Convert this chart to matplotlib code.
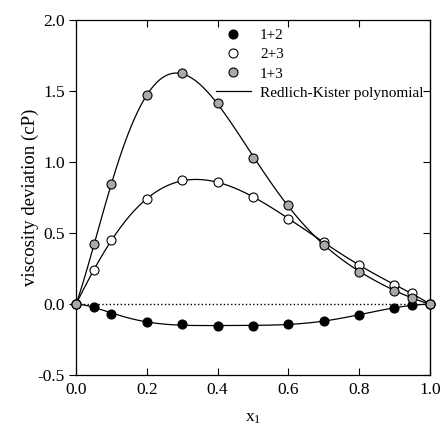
import numpy as np
import matplotlib
matplotlib.use('Agg')
import matplotlib.pyplot as plt

plt.rcParams['font.family'] = ['Liberation Serif', 'DejaVu Serif']
plt.rcParams['mathtext.fontset'] = 'stix'
plt.rcParams['font.size'] = 12.5

# mole fraction x1
x1 = [0.0, 0.05, 0.1, 0.2, 0.3, 0.4, 0.5, 0.6, 0.7, 0.8, 0.9, 0.95, 1.0]

# viscosity deviations (cP)
eta_12 = [0.0, -0.018, -0.068, -0.129, -0.143, -0.155, -0.153, -0.143, -0.118, -0.077, -0.030, -0.005, 0.0]
eta_23 = [0.0, 0.24, 0.449, 0.739, 0.871, 0.856, 0.756, 0.598, 0.439, 0.272, 0.134, 0.075, 0.0]
eta_13 = [0.0, 0.42, 0.843, 1.47, 1.625, 1.413, 1.030, 0.697, 0.418, 0.228, 0.094, 0.045, 0.0]

labels = ['1+2', '2+3', '1+3']
faces = ['black', 'white', '#a9a9a9']


# Redlich-Kister fit: x(1-x) * sum A_k (2x-1)^k
def rk_fit(x, y, n=6):
    x = np.asarray(x)
    y = np.asarray(y)
    M = np.column_stack([x * (1 - x) * (2 * x - 1) ** k for k in range(n)])
    A = np.linalg.lstsq(M, y, rcond=None)[0]
    return A


def rk_eval(A, x):
    return x * (1 - x) * sum(a * (2 * x - 1) ** k for k, a in enumerate(A))


fig = plt.figure(figsize=(4.45, 4.36), dpi=100)
ax = fig.add_axes([0.171, 0.140, 0.795, 0.814])

xs = np.linspace(0, 1, 400)
ax.plot([0, 1], [0, 0], ls=':', color='black', lw=1)

handles = []
for y, lab, fc in zip([eta_12, eta_23, eta_13], labels, faces):
    A = rk_fit(x1, y)
    line, = ax.plot(xs, rk_eval(A, xs), color='black', lw=0.9)
    h, = ax.plot(x1, y, 'o', ms=6.5, mfc=fc, mec='black', mew=0.8, ls='none',
                 label=lab, zorder=3, clip_on=False)
    handles.append(h)
line.set_label('Redlich-Kister polynomial')
handles.append(line)

ax.legend(handles=handles, loc='upper left', bbox_to_anchor=(0.373, 0.997),
          frameon=False, handlelength=2.3, handletextpad=0.6, borderpad=0,
          labelspacing=0.35, fontsize=11)

ax.set_xlim(0, 1)
ax.set_ylim(-0.5, 2.0)
ax.set_xticks([0, 0.2, 0.4, 0.6, 0.8, 1.0])
ax.set_yticks([-0.5, 0, 0.5, 1.0, 1.5, 2.0])
ax.xaxis.set_major_formatter(matplotlib.ticker.FormatStrFormatter('%.1f'))
ax.yaxis.set_major_formatter(matplotlib.ticker.FormatStrFormatter('%.1f'))
ax.tick_params(axis='x', direction='in', top=True, length=5, pad=5)
ax.tick_params(axis='y', direction='out', length=5, pad=3)
sec = ax.secondary_yaxis('right')
sec.set_yticks([-0.5, 0, 0.5, 1.0, 1.5, 2.0])
sec.tick_params(direction='in', length=5, labelright=False)
for s in ax.spines.values():
    s.set_linewidth(0.9)

ax.set_xlabel(r'x$_\mathregular{1}$', labelpad=9)
ax.set_ylabel('viscosity deviation (cP)', fontsize=13.5, labelpad=-1)

fig.savefig('out.png', dpi=100)
